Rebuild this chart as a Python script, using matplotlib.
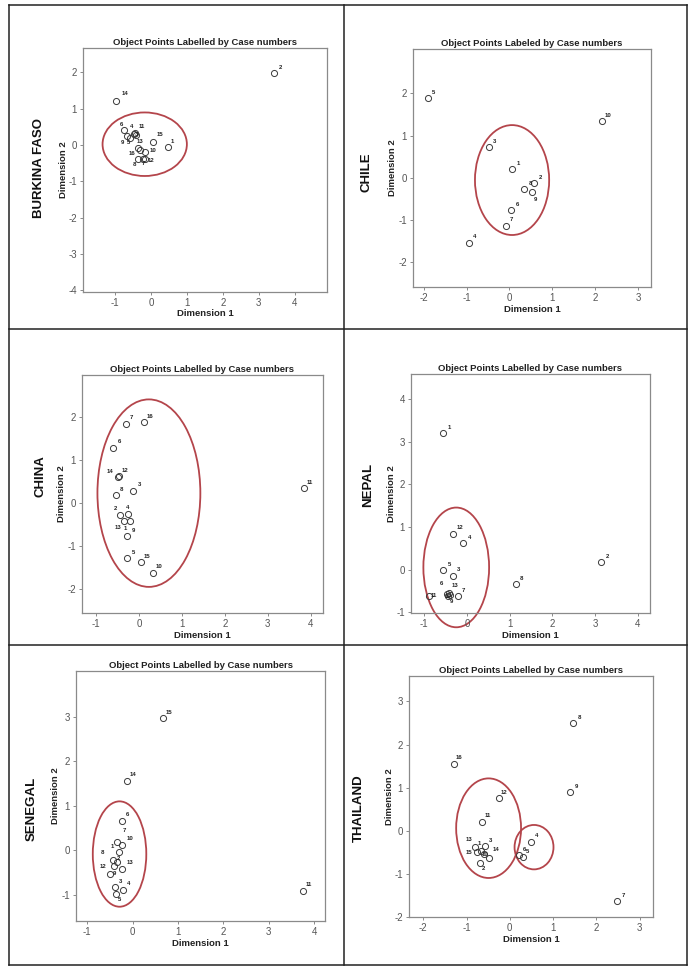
import matplotlib
matplotlib.use("Agg")
import matplotlib.pyplot as plt
from matplotlib.patches import Ellipse
from matplotlib.lines import Line2D

plt.rcParams['font.family'] = ['Liberation Sans', 'DejaVu Sans']
plt.rcParams['axes.unicode_minus'] = False

# ---------------- data: object scores per country ----------------
bf_cases = [1, 2, 3, 4, 5, 6, 7, 8, 9, 10, 11, 12, 13, 14, 15, 16]
bf_dim1 = [0.48, 3.43, -0.42, -0.48, -0.58, -0.75, -0.22, -0.38, -0.66, -0.18, -0.44, -0.16, -0.36, -0.98, 0.05, -0.30]
bf_dim2 = [-0.07, 1.98, 0.27, 0.31, 0.19, 0.41, -0.40, -0.40, 0.24, -0.20, 0.33, -0.38, -0.08, 1.22, 0.07, -0.13]
bf_clusters = [(-0.18, 0.02, 2.35, 1.75)]

cl_cases = [1, 2, 3, 4, 5, 6, 7, 8, 9, 10]
cl_dim1 = [0.06, 0.58, -0.48, -0.94, -1.90, 0.04, -0.08, 0.35, 0.53, 2.15]
cl_dim2 = [0.20, -0.12, 0.73, -1.53, 1.88, -0.76, -1.13, -0.27, -0.33, 1.35]
cl_clusters = [(0.06, -0.05, 1.73, 2.60)]

cn_cases = [1, 2, 3, 4, 5, 6, 7, 8, 9, 10, 11, 12, 13, 14, 15, 16]
cn_dim1 = [-0.21, -0.44, -0.13, -0.25, -0.27, -0.60, -0.31, -0.54, -0.27, 0.33, 3.84, -0.47, -0.35, -0.50, 0.04, 0.12]
cn_dim2 = [-0.43, -0.28, 0.29, -0.26, -1.29, 1.29, 1.85, 0.19, -0.78, -1.63, 0.34, 0.62, -0.41, 0.60, -1.38, 1.89]
cn_clusters = [(0.23, 0.23, 2.40, 4.38)]

np_cases = [1, 2, 3, 4, 5, 6, 7, 8, 9, 10, 11, 12, 13]
np_dim1 = [-0.55, 3.15, -0.33, -0.08, -0.55, -0.47, -0.21, 1.15, -0.39, -0.45, -0.88, -0.33, -0.43]
np_dim2 = [3.20, 0.17, -0.14, 0.62, -0.01, -0.58, -0.62, -0.35, -0.60, -0.62, -0.63, 0.84, -0.56]
np_clusters = [(-0.25, 0.05, 1.54, 2.81)]

sn_cases = [1, 2, 3, 4, 5, 6, 7, 8, 9, 10, 11, 12, 13, 14, 15]
sn_dim1 = [-0.30, -0.35, -0.39, -0.22, -0.37, -0.24, -0.34, -0.43, -0.50, -0.24, 3.75, -0.41, -0.24, -0.12, 0.66]
sn_dim2 = [-0.04, -0.25, -0.82, -0.88, -0.97, 0.67, 0.20, -0.21, -0.52, 0.13, -0.90, -0.34, -0.42, 1.56, 2.97]
sn_clusters = [(-0.29, -0.08, 1.18, 2.36)]

th_cases = [1, 2, 3, 4, 5, 6, 7, 8, 9, 10, 11, 12, 13, 14, 15, 16]
th_dim1 = [-0.67, -0.70, -0.57, 0.48, 0.31, 0.21, 2.48, 1.47, 1.40, -0.60, -0.64, -0.26, -0.80, -0.47, -0.76, -1.30]
th_dim2 = [-0.46, -0.74, -0.35, -0.25, -0.60, -0.56, -1.64, 2.49, 0.89, -0.54, 0.21, 0.75, -0.38, -0.62, -0.49, 1.56]
th_clusters = [(-0.49, 0.06, 1.50, 2.31), (0.56, -0.38, 0.90, 1.03)]

TITLE = "Object Points Labelled by Case numbers"
TITLE_CL = "Object Points Labeled by Case numbers"

panels = [
    dict(name="BURKINA FASO", cases=bf_cases, d1=bf_dim1, d2=bf_dim2, clusters=bf_clusters,
         title=TITLE, box=(83, 48, 327, 292), xlim=(-1.9, 4.9), ylim=(-4.05, 2.67),
         xticks=range(-1, 5), yticks=range(-4, 3), country_xy=(39, 168)),
    dict(name="CHILE", cases=cl_cases, d1=cl_dim1, d2=cl_dim2, clusters=cl_clusters,
         title=TITLE_CL, box=(413, 49, 651, 287), xlim=(-2.25, 3.3), ylim=(-2.58, 3.05),
         xticks=range(-2, 4), yticks=range(-2, 3), country_xy=(366, 172)),
    dict(name="CHINA", cases=cn_cases, d1=cn_dim1, d2=cn_dim2, clusters=cn_clusters,
         title=TITLE, box=(82, 375, 323, 613), xlim=(-1.33, 4.29), ylim=(-2.57, 2.99),
         xticks=range(-1, 5), yticks=range(-2, 3), country_xy=(40, 476)),
    dict(name="NEPAL", cases=np_cases, d1=np_dim1, d2=np_dim2, clusters=np_clusters,
         title=TITLE, box=(411, 374, 650, 613), xlim=(-1.31, 4.29), ylim=(-1.02, 4.59),
         xticks=range(-1, 5), yticks=range(-1, 5), country_xy=(368, 485)),
    dict(name="SENEGAL", cases=sn_cases, d1=sn_dim1, d2=sn_dim2, clusters=sn_clusters,
         title=TITLE, box=(76, 671, 325, 921), xlim=(-1.25, 4.24), ylim=(-1.58, 4.02),
         xticks=range(-1, 5), yticks=range(-1, 4), country_xy=(32, 809)),
    dict(name="THAILAND", cases=th_cases, d1=th_dim1, d2=th_dim2, clusters=th_clusters,
         title=TITLE, box=(409, 676, 653, 917), xlim=(-2.33, 3.31), ylim=(-2.0, 3.59),
         xticks=range(-2, 4), yticks=range(-2, 4), country_xy=(359, 808)),
]

# label offsets (points) for cases whose label does not sit at the upper right
label_shift = {
    ("BURKINA FASO", 6): (-2.3, 3.9), ("BURKINA FASO", 4): (-1.5, 4.9),
    ("BURKINA FASO", 11): (4.7, 4.4), ("BURKINA FASO", 9): (-3.4, -4.7),
    ("BURKINA FASO", 5): (-1.3, -3.4), ("BURKINA FASO", 13): (1.3, 4.4),
    ("BURKINA FASO", 15): (5.2, 5.4), ("BURKINA FASO", 1): (3.1, 4.1),
    ("BURKINA FASO", 16): (-6.2, -2.9), ("BURKINA FASO", 10): (6.0, 1.3),
    ("BURKINA FASO", 12): (3.9, -1.3), ("BURKINA FASO", 8): (-2.3, -3.6),
    ("BURKINA FASO", 7): (0.3, -3.1), ("BURKINA FASO", 14): (6.5, 4.8),
    ("BURKINA FASO", 3): (0.4, 0.3),
    ("CHILE", 9): (2.2, -5.3),
    ("CHINA", 14): (-5.3, 4.1), ("CHINA", 2): (-3.6, 4.8), ("CHINA", 4): (-0.7, 4.8),
    ("CHINA", 13): (-4.3, -5.0), ("CHINA", 1): (-3.1, -4.8),
    ("NEPAL", 6): (-3.6, 7.7), ("NEPAL", 13): (4.3, 5.5), ("NEPAL", 9): (0.7, -4.8),
    ("NEPAL", 11): (3.3, 0.4), ("NEPAL", 10): (0.5, -0.5), ("NEPAL", 12): (5.5, 4.8),
    ("SENEGAL", 1): (-4.8, 4.3), ("SENEGAL", 2): (1.2, 2.4), ("SENEGAL", 5): (2.4, -3.8),
    ("SENEGAL", 7): (5.0, 7.9), ("SENEGAL", 8): (-7.6, 5.3), ("SENEGAL", 9): (2.9, 0.0),
    ("SENEGAL", 10): (6.0, 4.1), ("SENEGAL", 12): (-8.1, -0.5), ("SENEGAL", 13): (6.0, 4.8),
    ("THAILAND", 13): (-4.1, 5.3), ("THAILAND", 1): (-1.0, 5.3), ("THAILAND", 15): (-6.0, -0.7),
    ("THAILAND", 14): (5.0, 5.8), ("THAILAND", 2): (2.9, -4.0), ("THAILAND", 10): (0.5, -0.5),
    ("THAILAND", 5): (3.3, 3.6),
}

W, H = 693, 967
fig = plt.figure(figsize=(W / 100, H / 100), dpi=100)
fig.patch.set_facecolor("white")


def fx(px):
    return px / W


def fy(py):
    return 1 - py / H


SPINE = "#8a8a8a"
TICKC = "#555555"
RED = "#b4454b"

for p in panels:
    L, T, R, B = p["box"]
    ax = fig.add_axes([fx(L), fy(B), fx(R) - fx(L), fy(T) - fy(B)])
    ax.set_xlim(*p["xlim"])
    ax.set_ylim(*p["ylim"])
    ax.set_xticks(list(p["xticks"]))
    ax.set_yticks(list(p["yticks"]))
    for s in ax.spines.values():
        s.set_color(SPINE)
        s.set_linewidth(0.9)
    ax.tick_params(direction="out", length=2.5, width=0.7, color=SPINE,
                   labelsize=7, labelcolor=TICKC, pad=2)

    ax.plot(p["d1"], p["d2"], linestyle="none", marker="o", markersize=4.4,
            markerfacecolor="none", markeredgecolor="#3a3a3a", markeredgewidth=0.7)
    for c, x, y in zip(p["cases"], p["d1"], p["d2"]):
        dx, dy = label_shift.get((p["name"], c), (4.2, 4.2))
        ax.annotate(str(c), (x, y), xytext=(dx, dy), textcoords="offset points",
                    ha="center", va="center", fontsize=4.3, fontweight="bold",
                    color="#222222")

    for cx, cy, w, h in p["clusters"]:
        ax.add_patch(Ellipse((cx, cy), w, h, fill=False, edgecolor=RED,
                             linewidth=1.3, clip_on=False))

    ax.set_title(p["title"], fontsize=6.8, fontweight="bold", color="#222222", pad=2.5)
    ax.set_xlabel("Dimension 1", fontsize=6.8, fontweight="bold", color="#222222")
    ax.set_ylabel("Dimension 2", fontsize=6.8, fontweight="bold", color="#222222")
    ax.xaxis.set_label_coords(0.5, -22 / (B - T))
    ax.xaxis.label.set_va("center")
    ax.yaxis.set_label_coords(-20 / (R - L), 0.5)
    ax.yaxis.label.set_va("center")

    cxp, cyp = p["country_xy"]
    fig.text(fx(cxp), fy(cyp), p["name"], rotation=90, ha="center", va="center",
             fontsize=9.5, fontweight="bold", color="#111111")

# table grid around the six panels
grid = dict(color="#222222", linewidth=1.1, transform=fig.transFigure)
left, right, top, bottom = 9, 687, 4.5, 964.5
fig.add_artist(Line2D([fx(left), fx(right)], [fy(top), fy(top)], **grid))
fig.add_artist(Line2D([fx(left), fx(right)], [fy(bottom), fy(bottom)], **grid))
fig.add_artist(Line2D([fx(left), fx(left)], [fy(top), fy(bottom)], **grid))
fig.add_artist(Line2D([fx(right), fx(right)], [fy(top), fy(bottom)], **grid))
fig.add_artist(Line2D([fx(344), fx(344)], [fy(top), fy(bottom)], **grid))
fig.add_artist(Line2D([fx(left), fx(right)], [fy(328.5), fy(328.5)], **grid))
fig.add_artist(Line2D([fx(left), fx(right)], [fy(645), fy(645)], **grid))

fig.savefig("out.png", dpi=100, facecolor="white")
